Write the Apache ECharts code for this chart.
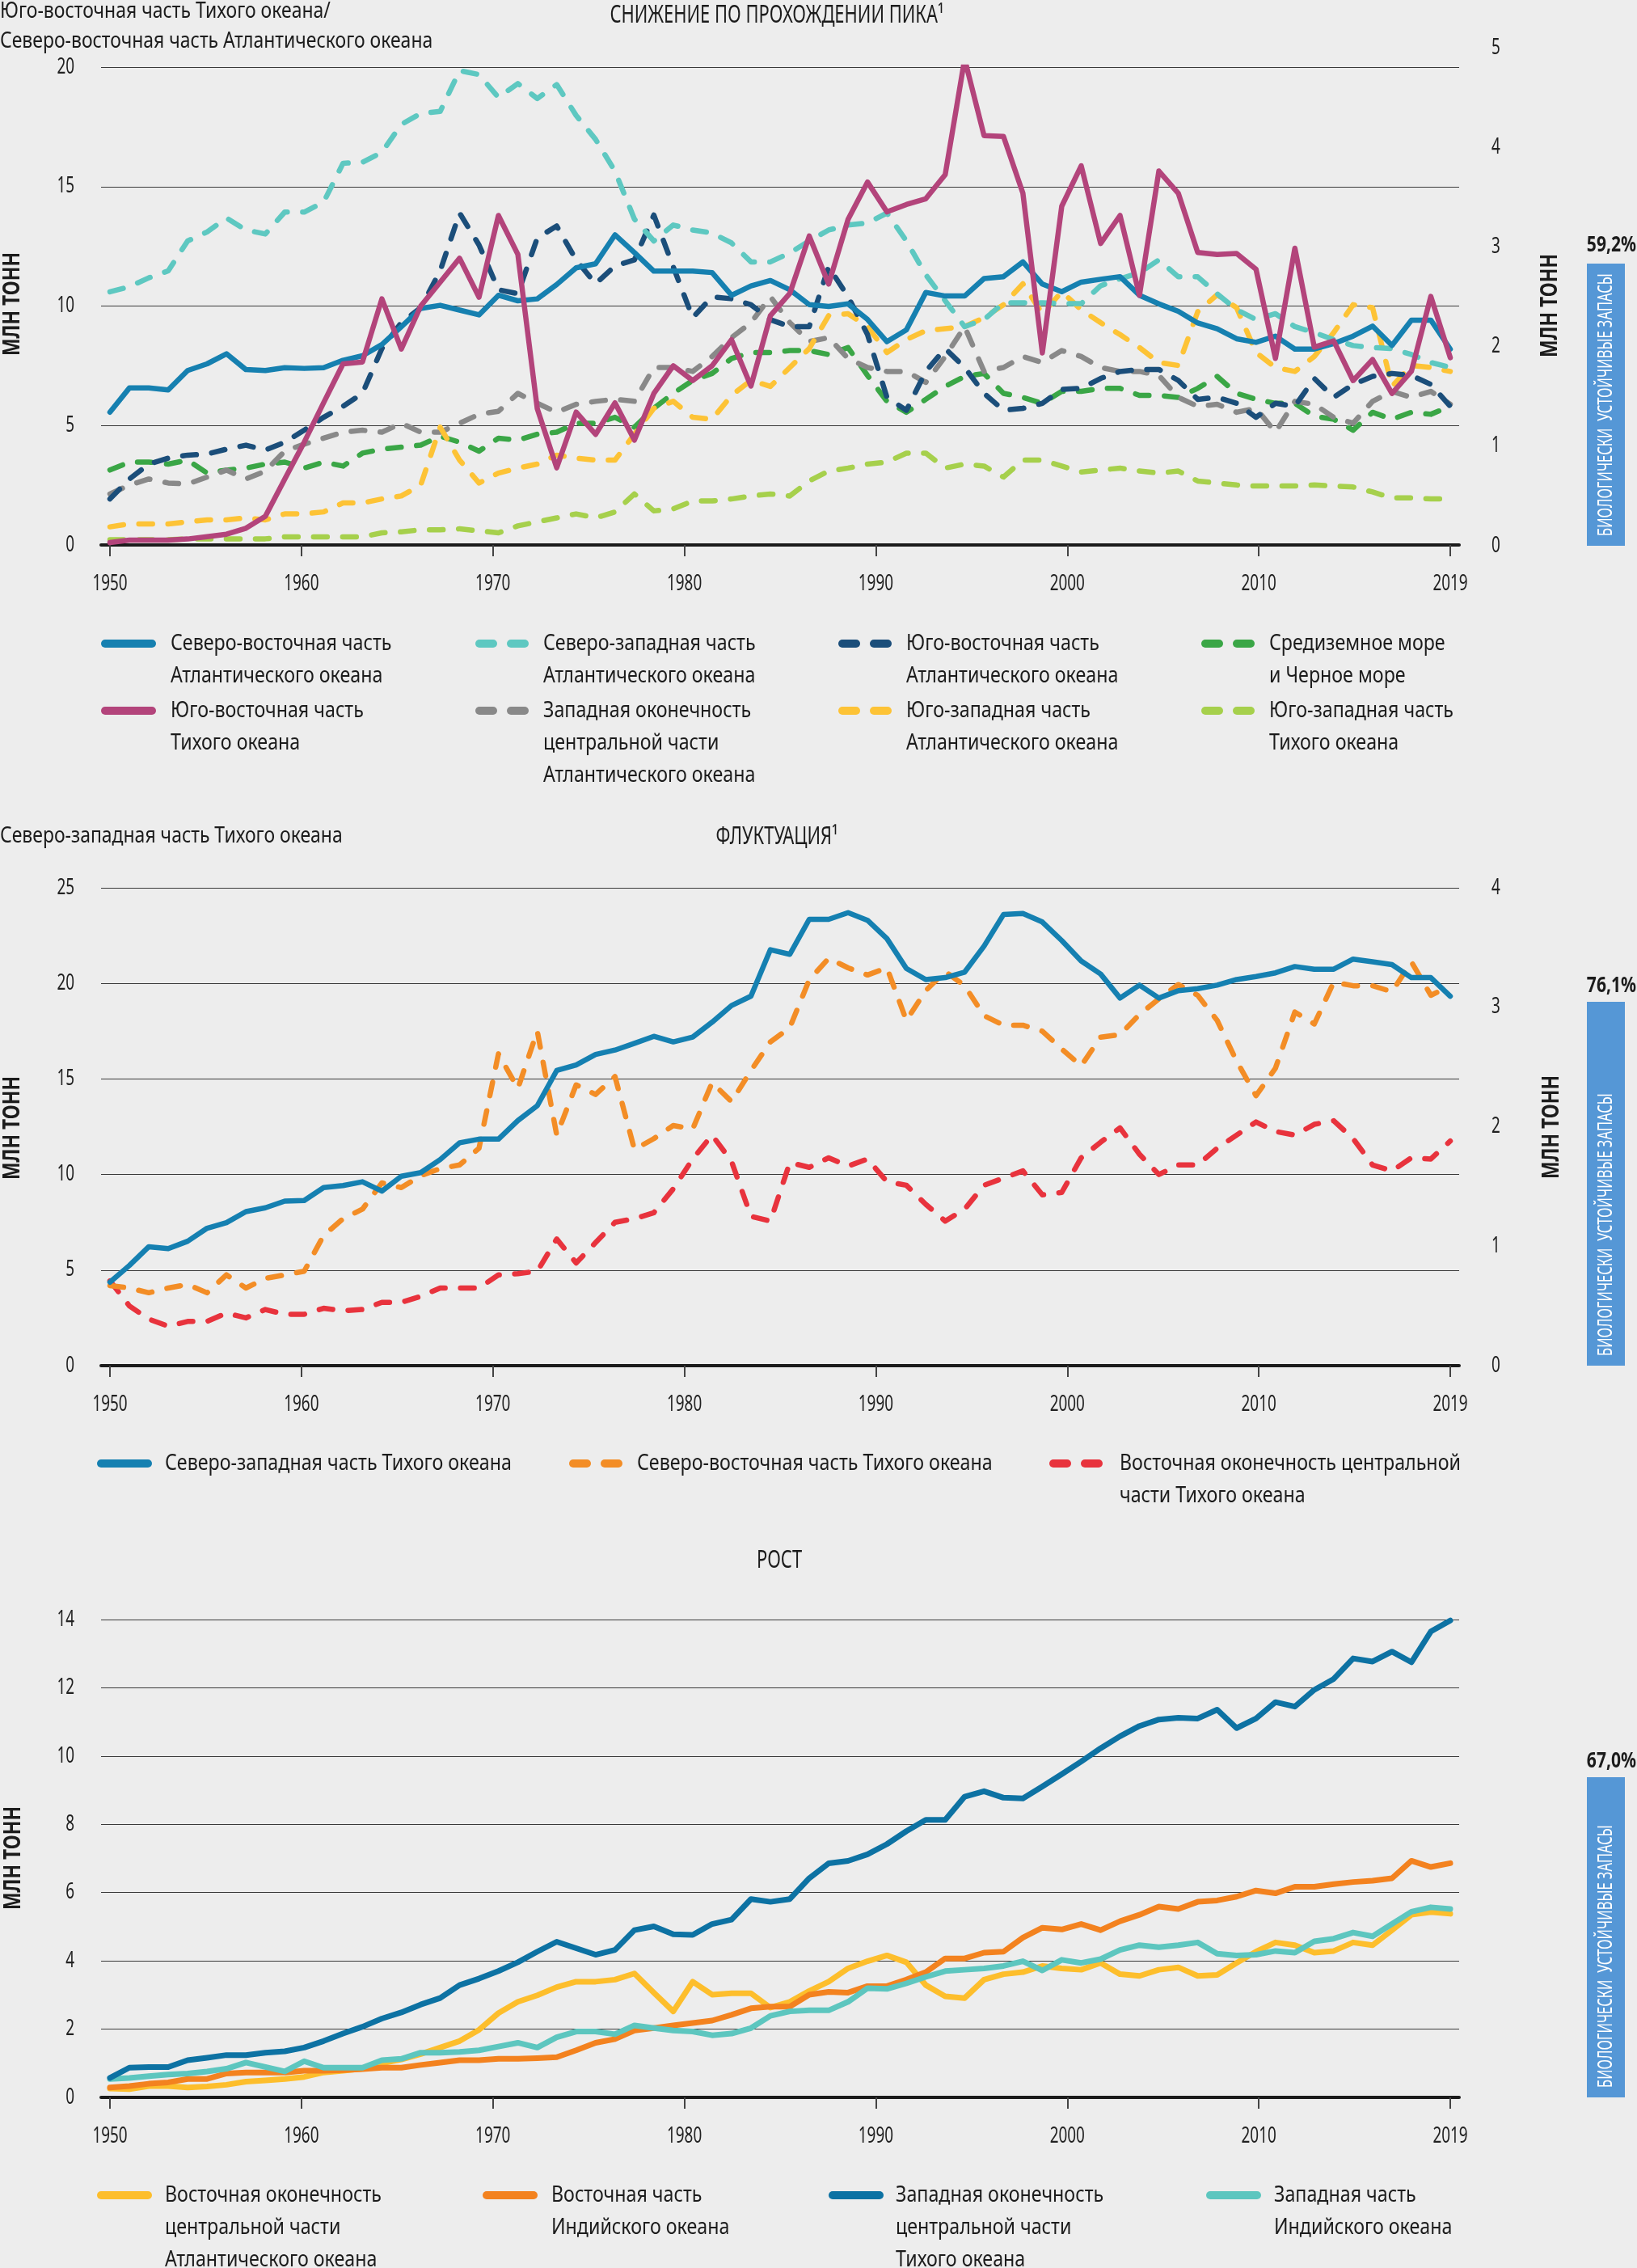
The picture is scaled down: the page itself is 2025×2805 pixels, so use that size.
<!DOCTYPE html>
<html><head><meta charset="utf-8">
<script src="https://cdn.jsdelivr.net/npm/echarts@6/dist/echarts.min.js"></script>
<style>html,body{margin:0;padding:0;background:#ededed}#c{width:2025px;height:2805px}</style>
</head><body><div id="c"></div>
<script>
// ---------------- DATA ----------------
const YEARS = [1950,1951,1952,1953,1954,1955,1956,1957,1958,1959,1960,1961,1962,1963,1964,1965,1966,1967,1968,1969,
1970,1971,1972,1973,1974,1975,1976,1977,1978,1979,1980,1981,1982,1983,1984,1985,1986,1987,1988,1989,
1990,1991,1992,1993,1994,1995,1996,1997,1998,1999,2000,2001,2002,2003,2004,2005,2006,2007,2008,2009,
2010,2011,2012,2013,2014,2015,2016,2017,2018,2019];
const X_TICKS = [1950,1960,1970,1980,1990,2000,2010,2020];
const X_TICK_LABELS = ['1950','1960','1970','1980','1990','2000','2010','2019'];

// Panel 1 (left axis, 0-20)
const neAtlantic = [5.56,6.57,6.57,6.49,7.3,7.58,8.0,7.34,7.3,7.42,7.39,7.42,7.73,7.92,8.39,9.13,9.9,10.03,9.83,9.63,
10.45,10.22,10.3,10.9,11.6,11.77,12.98,12.24,11.46,11.46,11.46,11.4,10.45,10.84,11.07,10.68,10.06,9.98,10.09,9.44,
8.51,9.0,10.57,10.42,10.42,11.15,11.23,11.85,10.92,10.6,11.0,11.12,11.23,10.45,10.09,9.78,9.29,9.05,8.63,8.48,
8.74,8.2,8.2,8.43,8.74,9.16,8.35,9.41,9.41,8.2];
const sePacific = [0.1,0.2,0.2,0.2,0.25,0.35,0.45,0.7,1.2,2.76,4.3,5.95,7.58,7.66,10.3,8.2,10.0,11.0,12.0,10.37,
13.79,12.16,5.7,3.23,5.56,4.63,5.95,4.39,6.34,7.5,6.88,7.5,8.59,6.65,9.6,10.53,12.93,10.92,13.63,15.19,
13.94,14.25,14.49,15.5,20.34,17.13,17.1,14.72,8.04,14.18,15.87,12.62,13.79,10.45,15.65,14.72,12.24,12.16,12.2,11.54,
7.81,12.42,8.28,8.54,6.88,7.76,6.34,7.27,10.4,7.84];
// Panel 1 (right axis, 0-5)
const nwAtlantic = [2.55,2.6,2.69,2.76,3.06,3.15,3.29,3.17,3.13,3.35,3.35,3.45,3.84,3.85,3.95,4.23,4.34,4.36,4.77,4.73,
4.5,4.64,4.49,4.63,4.32,4.08,3.76,3.28,3.06,3.22,3.17,3.14,3.04,2.85,2.85,2.94,3.06,3.17,3.22,3.24,
3.34,3.06,2.72,2.46,2.2,2.27,2.44,2.44,2.44,2.43,2.43,2.61,2.68,2.74,2.87,2.7,2.7,2.53,2.37,2.27,
2.33,2.2,2.14,2.07,2.01,1.99,1.98,1.92,1.84,1.79];
const seAtlantic = [0.47,0.67,0.82,0.88,0.91,0.92,0.97,1.01,0.96,1.04,1.16,1.29,1.4,1.53,1.98,2.24,2.39,2.76,3.34,3.02,
2.57,2.53,3.09,3.21,2.87,2.63,2.81,2.87,3.32,2.8,2.29,2.5,2.48,2.42,2.27,2.2,2.2,2.8,2.5,2.12,
1.49,1.36,1.75,1.98,1.79,1.53,1.36,1.38,1.43,1.57,1.58,1.68,1.75,1.77,1.77,1.66,1.47,1.49,1.43,1.29,
1.43,1.4,1.68,1.49,1.62,1.7,1.73,1.71,1.62,1.4];
const medBlack = [0.76,0.84,0.84,0.82,0.86,0.73,0.76,0.78,0.82,0.84,0.78,0.84,0.8,0.93,0.97,0.99,1.01,1.1,1.04,0.95,
1.08,1.06,1.12,1.14,1.23,1.23,1.29,1.19,1.38,1.53,1.66,1.73,1.88,1.94,1.94,1.96,1.96,1.92,1.99,1.71,
1.45,1.34,1.47,1.6,1.7,1.73,1.53,1.49,1.43,1.55,1.55,1.58,1.58,1.51,1.51,1.49,1.58,1.7,1.53,1.47,
1.43,1.43,1.3,1.27,1.16,1.34,1.27,1.34,1.32,1.4];
const wcAtlantic = [0.52,0.61,0.67,0.63,0.62,0.69,0.76,0.67,0.75,0.95,1.02,1.08,1.14,1.16,1.14,1.23,1.14,1.14,1.23,1.32,
1.35,1.53,1.43,1.34,1.42,1.45,1.47,1.45,1.79,1.79,1.75,1.9,2.09,2.24,2.5,2.24,2.05,2.09,1.88,1.79,
1.75,1.75,1.64,1.9,2.2,1.75,1.79,1.9,1.84,1.96,1.9,1.79,1.75,1.75,1.71,1.49,1.4,1.42,1.34,1.38,
1.14,1.45,1.42,1.29,1.23,1.45,1.55,1.49,1.55,1.42];
const swAtlantic = [0.19,0.22,0.22,0.22,0.24,0.26,0.26,0.28,0.26,0.32,0.32,0.34,0.43,0.43,0.47,0.5,0.61,1.19,0.86,0.63,
0.73,0.78,0.82,0.91,0.88,0.86,0.86,1.12,1.38,1.45,1.29,1.27,1.51,1.66,1.6,1.79,1.98,2.31,2.33,2.2,
1.94,2.07,2.16,2.18,2.2,2.29,2.42,2.63,2.33,2.55,2.37,2.24,2.12,1.99,1.84,1.81,2.35,2.52,2.39,1.94,
1.79,1.75,1.9,2.14,2.42,2.39,1.6,1.81,1.79,1.75];
const swPacific = [0.06,0.06,0.06,0.06,0.07,0.07,0.07,0.07,0.07,0.09,0.09,0.09,0.09,0.09,0.13,0.14,0.16,0.16,0.17,0.15,
0.13,0.2,0.24,0.28,0.32,0.28,0.34,0.52,0.35,0.37,0.45,0.45,0.47,0.5,0.52,0.5,0.65,0.75,0.78,0.82,
0.84,0.93,0.93,0.78,0.82,0.8,0.69,0.86,0.86,0.8,0.74,0.76,0.78,0.75,0.73,0.75,0.65,0.63,0.61,0.6,
0.6,0.6,0.61,0.6,0.59,0.54,0.48,0.48,0.47,0.47];

// Panel 2 (left 0-25: NW Pacific; right 0-4: others)
const nwPacific = [4.37,5.24,6.22,6.12,6.51,7.19,7.48,8.06,8.26,8.61,8.64,9.32,9.42,9.62,9.13,9.91,10.1,10.78,11.66,11.85,
11.85,12.82,13.6,15.44,15.73,16.28,16.51,16.86,17.23,16.94,17.19,17.97,18.84,19.33,21.76,21.52,23.35,23.35,23.7,23.3,
22.34,20.78,20.2,20.3,20.59,21.95,23.6,23.66,23.21,22.24,21.17,20.49,19.23,19.91,19.23,19.62,19.72,19.91,20.2,20.36,
20.55,20.88,20.74,20.74,21.27,21.13,20.98,20.3,20.3,19.33];
const nePacific = [0.67,0.65,0.61,0.65,0.68,0.61,0.76,0.65,0.73,0.76,0.79,1.09,1.23,1.31,1.53,1.49,1.59,1.65,1.68,1.82,
2.61,2.32,2.8,1.93,2.35,2.27,2.42,1.81,1.9,2.01,1.98,2.37,2.21,2.47,2.71,2.83,3.23,3.41,3.33,3.27,
3.33,2.89,3.14,3.3,3.18,2.93,2.85,2.85,2.8,2.65,2.51,2.75,2.77,2.94,3.07,3.19,3.1,2.89,2.55,2.26,
2.49,2.96,2.86,3.21,3.18,3.18,3.13,3.38,3.1,3.18];
const ecPacific = [0.71,0.5,0.39,0.33,0.37,0.37,0.44,0.4,0.47,0.43,0.43,0.48,0.46,0.47,0.53,0.53,0.58,0.65,0.65,0.65,
0.76,0.77,0.79,1.06,0.86,1.03,1.2,1.23,1.28,1.48,1.73,1.93,1.71,1.25,1.21,1.7,1.66,1.74,1.67,1.73,
1.54,1.51,1.35,1.21,1.31,1.51,1.57,1.63,1.43,1.45,1.74,1.87,1.99,1.77,1.6,1.68,1.68,1.82,1.93,2.04,
1.96,1.93,2.02,2.05,1.9,1.68,1.63,1.74,1.73,1.88];

// Panel 3 (0-14)
const ecAtlantic = [0.26,0.24,0.33,0.33,0.29,0.32,0.37,0.46,0.5,0.54,0.6,0.73,0.78,0.84,1.0,1.11,1.27,1.46,1.65,1.98,
2.47,2.8,2.99,3.23,3.39,3.39,3.45,3.63,3.07,2.52,3.39,3.01,3.05,3.05,2.63,2.8,3.12,3.39,3.78,3.99,
4.16,3.96,3.29,2.96,2.91,3.45,3.61,3.67,3.85,3.78,3.74,3.94,3.61,3.56,3.74,3.81,3.56,3.59,3.94,4.27,
4.54,4.46,4.24,4.29,4.54,4.46,4.9,5.35,5.43,5.38];
const eIndian = [0.29,0.33,0.4,0.44,0.54,0.54,0.7,0.73,0.73,0.73,0.78,0.78,0.8,0.83,0.87,0.87,0.95,1.02,1.09,1.09,
1.13,1.13,1.15,1.18,1.38,1.6,1.71,1.96,2.03,2.11,2.18,2.25,2.42,2.61,2.66,2.66,3.01,3.09,3.07,3.26,
3.26,3.45,3.67,4.07,4.07,4.24,4.27,4.68,4.97,4.92,5.08,4.9,5.16,5.35,5.59,5.52,5.73,5.77,5.88,6.06,
5.98,6.17,6.17,6.25,6.31,6.35,6.42,6.93,6.75,6.86];
const wcPacific = [0.57,0.87,0.89,0.89,1.09,1.16,1.24,1.24,1.31,1.35,1.46,1.65,1.87,2.07,2.31,2.49,2.72,2.91,3.29,3.48,
3.7,3.96,4.27,4.56,4.37,4.18,4.32,4.9,5.01,4.78,4.76,5.08,5.21,5.81,5.73,5.81,6.42,6.86,6.93,7.12,
7.42,7.8,8.13,8.13,8.81,8.97,8.78,8.76,9.11,9.47,9.84,10.23,10.58,10.88,11.07,11.12,11.1,11.36,10.82,11.1,
11.58,11.45,11.94,12.26,12.86,12.77,13.06,12.75,13.65,13.97];
const wIndian = [0.54,0.57,0.62,0.67,0.7,0.76,0.84,1.02,0.89,0.76,1.06,0.87,0.87,0.87,1.09,1.13,1.31,1.31,1.33,1.38,
1.49,1.6,1.46,1.76,1.93,1.93,1.85,2.11,2.03,1.96,1.93,1.82,1.87,2.03,2.39,2.52,2.55,2.55,2.8,3.2,
3.18,3.34,3.53,3.7,3.74,3.78,3.85,3.99,3.72,4.03,3.94,4.05,4.32,4.46,4.4,4.46,4.54,4.21,4.16,4.18,
4.29,4.24,4.57,4.65,4.83,4.72,5.08,5.44,5.57,5.52];

// Texts
const TITLES = ['СНИЖЕНИЕ ПО ПРОХОЖДЕНИИ ПИКА¹','ФЛУКТУАЦИЯ¹','РОСТ'];
const P1_LEFT_NAME = ['Юго-восточная часть Тихого океана/','Северо-восточная часть Атлантического океана'];
const P2_LEFT_NAME = 'Северо-западная часть Тихого океана';
const UNIT = 'МЛН ТОНН';
const BOX_TEXT = 'БИОЛОГИЧЕСКИ  УСТОЙЧИВЫЕ ЗАПАСЫ';
const PERCENTS = ['59,2%','76,1%','67,0%'];
const P1_NAMES = ['Северо-восточная часть\nАтлантического океана','Северо-западная часть\nАтлантического океана',
  'Юго-восточная часть\nАтлантического океана','Средиземное море\nи Черное море',
  'Юго-восточная часть\nТихого океана','Западная оконечность\nцентральной части\nАтлантического океана',
  'Юго-западная часть\nАтлантического океана','Юго-западная часть\nТихого океана'];
const P2_NAMES = ['Северо-западная часть Тихого океана','Северо-восточная часть Тихого океана',
  'Восточная оконечность центральной\nчасти Тихого океана'];
const P3_NAMES = ['Восточная оконечность\nцентральной части\nАтлантического океана','Восточная часть\nИндийского океана',
  'Западная оконечность\nцентральной части\nТихого океана','Западная часть\nИндийского океана'];

// ---------------- STYLE / LAYOUT ----------------
const FONT = '"Noto Sans","Open Sans",sans-serif';
const BG = '#ededed', TXT = '#1c1c1c';
const GL = 125, GR = 220;
const PLOT_W = 2025 - GL - GR;
const INSET = 11;
const DATA_W = PLOT_W - 2*INSET;
const PD = INSET * 69 / DATA_W;
const PT = INSET * 70 / DATA_W;
const NUM_SIZE = 27, NUM_SX = 0.7;

function pts(a){ return YEARS.map((y,i)=>[y,a[i]]); }

function tickAxis(gi){
  return {type:'value',gridIndex:gi,min:1950-PT,max:2020+PT,
    axisLine:{show:true,onZero:false,lineStyle:{color:'#1b1b1b',width:4}},
    axisTick:{show:true,customValues:X_TICKS,length:14,lineStyle:{color:'#444',width:2}},
    axisLabel:{show:false},
    splitLine:{show:false}};
}
function dataAxis(gi){ return {type:'value',gridIndex:gi,min:1950-PD,max:2019+PD,show:false}; }
function yLeft(gi,max,iv){
  return {type:'value',gridIndex:gi,min:0,max:max,interval:iv,position:'left',
    axisLine:{show:false},axisTick:{show:false},axisLabel:{show:false},
    splitLine:{show:true,lineStyle:{color:'#3a3a3a',width:1.2}}};
}
function yRight(gi,max,iv){
  return {type:'value',gridIndex:gi,min:0,max:max,interval:iv,position:'right',
    axisLine:{show:false},axisTick:{show:false},axisLabel:{show:false},
    splitLine:{show:false}};
}
function ser(name,data,color,xi,yi,dashed,w,z){
  return {name:name,type:'line',xAxisIndex:xi,yAxisIndex:yi,data:pts(data),symbol:'none',silent:true,
    z:z||2,
    lineStyle:{color:color,width:w||6.5,type:dashed?[17,19]:'solid',cap:'round',join:'round'}};
}

const C = {
  neAtl:'#1680b0', seP:'#b3447b', nwAtl:'#5ec8c1', seAtl:'#1b4e7a', med:'#3aa646', wcAtl:'#898989',
  swAtl:'#fdc336', swP:'#a6d04c', nwP:'#1580b1', neP:'#f38d26', ecP:'#e8333d',
  ecAtl:'#fdbe2c', eInd:'#f3821f', wcP:'#0d72a3', wInd:'#5dc6bf', box:'#5597d6'
};

const grids = [
  {left:GL,right:GR,top:83,height:591},
  {left:GL,right:GR,top:59,height:616},
  {left:GL,right:GR,top:1098,height:591},
  {left:GL,right:GR,top:2003,height:591}
];
const xAxes = [tickAxis(0),dataAxis(0),dataAxis(1),tickAxis(2),dataAxis(2),tickAxis(3),dataAxis(3)];
const yAxes = [yLeft(0,20,5),yRight(1,5,1),yLeft(2,25,5),yRight(2,4,1),yLeft(3,14,2)];

const series = [
  ser(P1_NAMES[7],swPacific,C.swP,2,1,true),
  ser(P1_NAMES[3],medBlack,C.med,2,1,true),
  ser(P1_NAMES[5],wcAtlantic,C.wcAtl,2,1,true),
  ser(P1_NAMES[6],swAtlantic,C.swAtl,2,1,true),
  ser(P1_NAMES[2],seAtlantic,C.seAtl,2,1,true),
  ser(P1_NAMES[1],nwAtlantic,C.nwAtl,2,1,true),
  ser(P1_NAMES[0],neAtlantic,C.neAtl,1,0,false,6.5,3),
  ser(P1_NAMES[4],sePacific,C.seP,1,0,false,6.5,4),
  ser(P2_NAMES[2],ecPacific,C.ecP,4,3,true),
  ser(P2_NAMES[1],nePacific,C.neP,4,3,true),
  ser(P2_NAMES[0],nwPacific,C.nwP,4,2,false,6.5,3),
  ser(P3_NAMES[0],ecAtlantic,C.ecAtl,6,4,false,7),
  ser(P3_NAMES[1],eIndian,C.eInd,6,4,false,7),
  ser(P3_NAMES[3],wIndian,C.wInd,6,4,false,7),
  ser(P3_NAMES[2],wcPacific,C.wcP,6,4,false,7)
];

// ---------------- GRAPHICS ----------------
const G = [];
function text(x,y,t,st,extra){
  G.push(Object.assign({type:'text',x:x,y:y,silent:true,z:100,
    style:Object.assign({text:t,fontSize:26,fontFamily:FONT,fill:TXT,align:'left',verticalAlign:'middle'},st||{})},extra||{}));
}
function pill(x,y,w,h,color){
  G.push({type:'rect',silent:true,z:100,shape:{x:x,y:y-h/2,width:w,height:h,r:h/2},style:{fill:color}});
}
function legendItem(ix,tx,y,label,color,dashed){
  if(dashed){ pill(ix,y,27,10,color); pill(ix+39,y,27,10,color); }
  else pill(ix,y,68,10,color);
  text(tx,y-20,label,{verticalAlign:'top',lineHeight:40,fontSize:28},{scaleX:0.83});
}
text(961,19,TITLES[0],{align:'center',fontSize:30},{scaleX:0.73});
text(961,1035,TITLES[1],{align:'center',fontSize:30},{scaleX:0.73});
text(964,1930,TITLES[2],{align:'center',fontSize:30},{scaleX:0.73});
text(0,14,P1_LEFT_NAME[0],{fontSize:28},{scaleX:0.82});
text(0,51,P1_LEFT_NAME[1],{fontSize:28},{scaleX:0.82});
text(0,1034,P2_LEFT_NAME,{fontSize:28},{scaleX:0.82});
[[16,376],[16,1395],[17,2298],[1918,378],[1920,1394]].forEach(p=>{
  text(p[0],p[1],UNIT,{align:'center',fontWeight:'bold',fontSize:28},{rotation:Math.PI/2,scaleX:0.82});
});
[[326,675,303],[1239,1689,1219],[2198,2594,2178]].forEach((b,i)=>{
  G.push({type:'rect',silent:true,z:90,shape:{x:1963,y:b[0],width:47,height:b[1]-b[0]},style:{fill:C.box}});
  text(1987,b[1]-12,BOX_TEXT,{fill:'#ffffff',fontSize:25,align:'left'},{rotation:Math.PI/2,scaleX:0.66});
  text(2024,b[2],PERCENTS[i],{fontWeight:'bold',fontSize:27},{scaleX:0.78});
  G[G.length-1].style.align='right';
});
[
  [125,211,796,P1_NAMES[0],C.neAtl,false],[588,672,796,P1_NAMES[1],C.nwAtl,true],
  [1037,1121,796,P1_NAMES[2],C.seAtl,true],[1486,1570,796,P1_NAMES[3],C.med,true],
  [125,211,879,P1_NAMES[4],C.seP,false],[588,672,879,P1_NAMES[5],C.wcAtl,true],
  [1037,1121,879,P1_NAMES[6],C.swAtl,true],[1486,1570,879,P1_NAMES[7],C.swP,true]
].forEach(a=>legendItem.apply(null,a));
[
  [120,204,1810,P2_NAMES[0],C.nwP,false],[704,788,1810,P2_NAMES[1],C.neP,true],[1298,1385,1810,P2_NAMES[2],C.ecP,true]
].forEach(a=>legendItem.apply(null,a));
[
  [120,204,2715,P3_NAMES[0],C.ecAtl,false],[597,682,2715,P3_NAMES[1],C.eInd,false],
  [1025,1108,2715,P3_NAMES[2],C.wcP,false],[1492,1576,2715,P3_NAMES[3],C.wInd,false]
].forEach(a=>legendItem.apply(null,a));

const chart = echarts.init(document.getElementById('c'),null,{renderer:'canvas'});
chart.setOption({
  backgroundColor:BG, animation:false,
  grid:grids, xAxis:xAxes, yAxis:yAxes, series:series, graphic:G
});

// Axis labels placed through the library's own scales (condensed text)
function numLabel(x,y,t,align){
  text(x,y,t,{fontSize:NUM_SIZE,align:align,fill:'#222'},{scaleX:NUM_SX});
}
[[0,0],[3,2],[5,4]].forEach(([xi,yi])=>{
  const base = chart.convertToPixel({yAxisIndex:yi},0);
  X_TICKS.forEach((v,k)=>{
    numLabel(chart.convertToPixel({xAxisIndex:xi},v), base+48, X_TICK_LABELS[k],'center');
  });
});
[[0,20,5,'L'],[1,5,1,'R'],[2,25,5,'L'],[3,4,1,'R'],[4,14,2,'L']].forEach(([yi,max,iv,side])=>{
  for(let v=0; v<=max; v+=iv){
    const py = chart.convertToPixel({yAxisIndex:yi},v);
    if(side==='L') numLabel(GL-33, py, String(v), 'right');
    else numLabel(2025-GR+40, py, String(v), 'left');
  }
});
chart.setOption({graphic:G});
</script></body></html>
